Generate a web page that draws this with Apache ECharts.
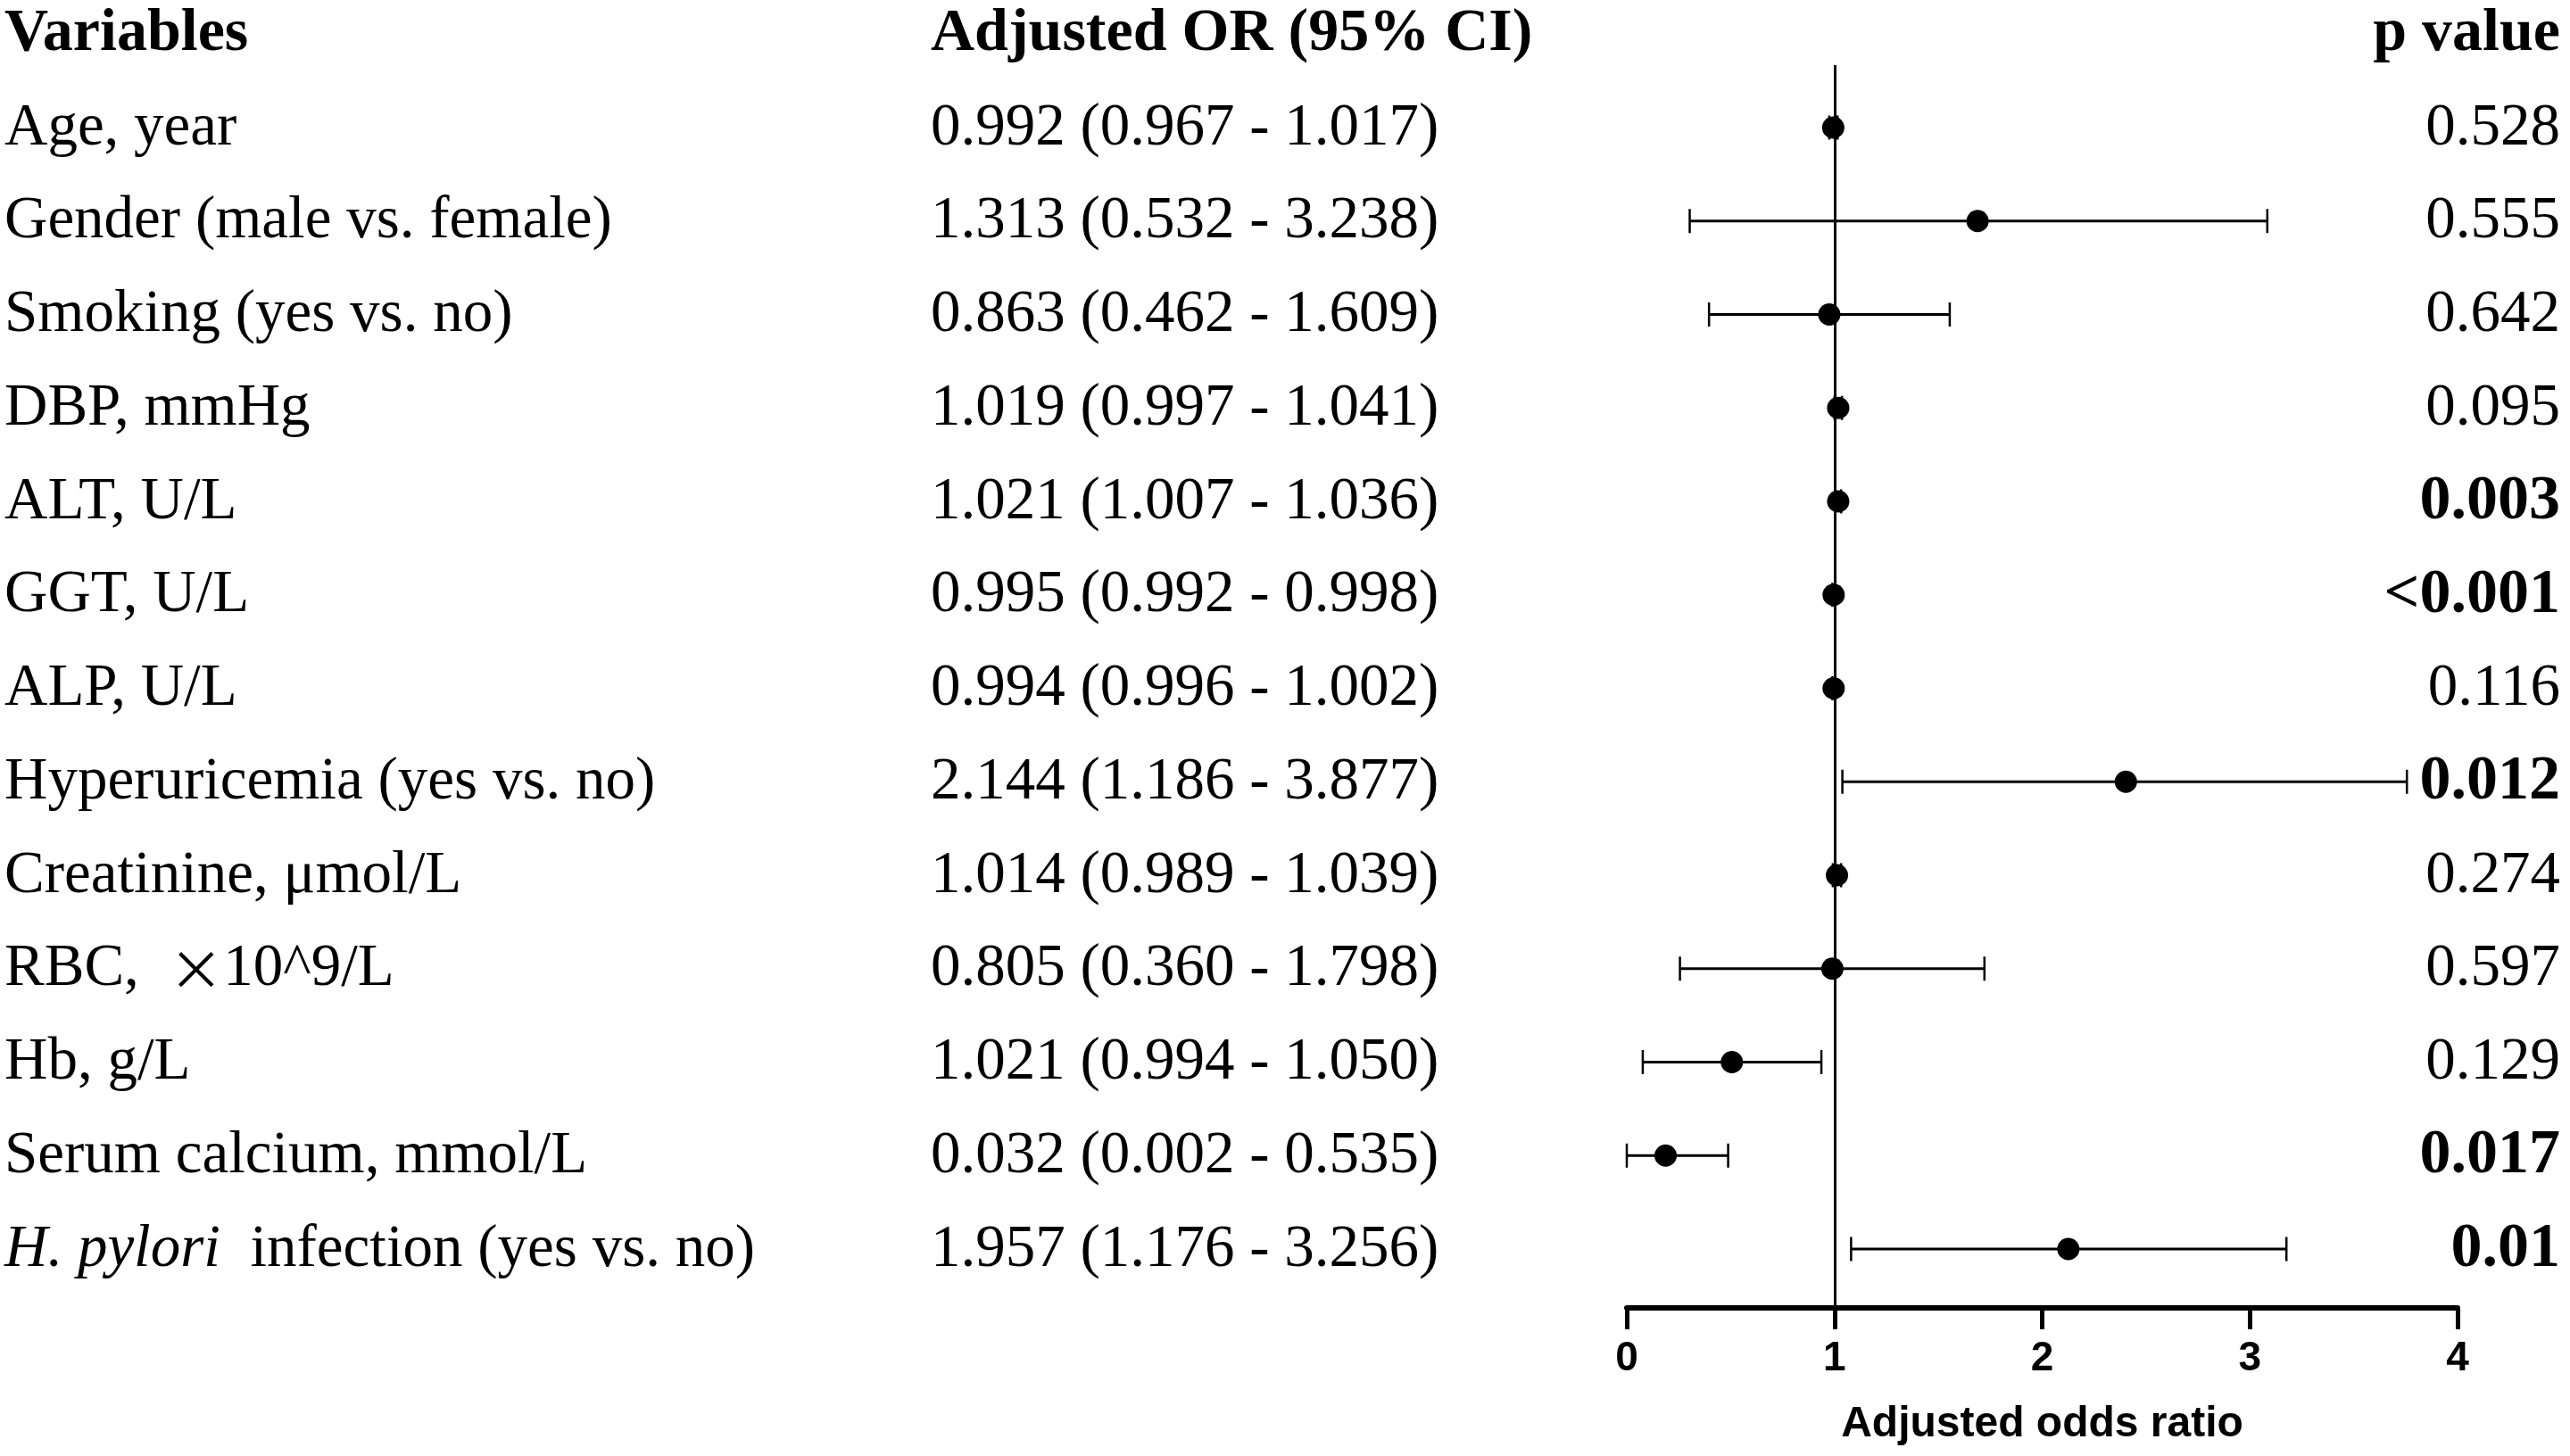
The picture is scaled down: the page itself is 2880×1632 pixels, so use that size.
<!DOCTYPE html>
<html>
<head>
<meta charset="utf-8">
<script src="https://cdn.jsdelivr.net/npm/echarts@6/dist/echarts.min.js"></script>
<style>
html,body{margin:0;padding:0;background:#ffffff;}
#chart{width:2880px;height:1632px;}
</style>
</head>
<body>
<div id="chart"></div>
<script>
// ---------- data ----------
const headers = ['Variables', 'Adjusted OR (95% CI)', 'p value'];
const variables = [
  'Age, year',
  'Gender (male vs. female)',
  'Smoking (yes vs. no)',
  'DBP, mmHg',
  'ALT, U/L',
  'GGT, U/L',
  'ALP, U/L',
  'Hyperuricemia (yes vs. no)',
  'Creatinine, \u03bcmol/L',
  'RBC, \u00d710^9/L',
  'Hb, g/L',
  'Serum calcium, mmol/L',
  'H. pylori  infection (yes vs. no)'
];
// printed adjusted OR and 95% CI (text column)
const orPrinted    = [0.992, 1.313, 0.863, 1.019, 1.021, 0.995, 0.994, 2.144, 1.014, 0.805, 1.021, 0.032, 1.957];
const ciLowPrinted = [0.967, 0.532, 0.462, 0.997, 1.007, 0.992, 0.996, 1.186, 0.989, 0.360, 0.994, 0.002, 1.176];
const ciHighPrinted= [1.017, 3.238, 1.609, 1.041, 1.036, 0.998, 1.002, 3.877, 1.039, 1.798, 1.050, 0.535, 3.256];
const pValues = ['0.528', '0.555', '0.642', '0.095', '0.003', '<0.001', '0.116', '0.012', '0.274', '0.597', '0.129', '0.017', '0.01'];
const pBold   = [false, false, false, false, true, true, false, true, false, false, false, true, true];
// values as drawn in the forest plot
const plotOR   = [0.994, 1.689, 0.975, 1.018, 1.018, 0.996, 0.996, 2.403, 1.012, 0.990, 0.506, 0.187, 2.126];
const plotLow  = [0.975, 0.303, 0.396, 1.000, 1.004, 0.990, 0.990, 1.038, 0.992, 0.256, 0.077, 0.000, 1.080];
const plotHigh = [1.015, 3.084, 1.555, 1.036, 1.032, 1.002, 1.002, 3.756, 1.032, 1.722, 0.937, 0.488, 3.176];
const xAxisMin = 0, xAxisMax = 4, xAxisStep = 1;
const xAxisTitle = 'Adjusted odds ratio';

// ---------- layout / style ----------
const SERIF = "'Liberation Serif', 'Times New Roman', serif";
const SANS = "'Liberation Sans', Arial, sans-serif";
const CJK = "'Noto Sans CJK SC', sans-serif";
const COL_VAR_X = 5;
const COL_OR_X = 1043;
const COL_P_RIGHT = 2869;
const ROW_FONT = 67;
const P_BOLD_FONT = 70;
const HEAD_FONT = 68;

const rows = variables.map((_, i) => i + 1);
const fmt = v => v.toFixed(3);

const textData = variables.map((v, i) => [0, rows[i]]);
const whiskerData = rows.map((r, i) => [r, plotLow[i], plotHigh[i]]);
const dotData = rows.map((r, i) => [plotOR[i], r]);

const chart = echarts.init(document.getElementById('chart'), null, {renderer: 'canvas'});

const richBase = {
  n: {fontFamily: SERIF, fontSize: ROW_FONT, fill: '#000'},
  i: {fontFamily: SERIF, fontSize: ROW_FONT, fontStyle: 'italic', fill: '#000'},
  x: {fontFamily: CJK, fontSize: ROW_FONT - 6, fill: '#000'}
};

function richName(name) {
  if (name.indexOf('H. pylori') === 0) {
    return '{i|H. pylori}{n|' + name.slice(9) + '}';
  }
  const k = name.indexOf('\u00d7');
  if (k >= 0) {
    return '{n|' + name.slice(0, k) + ' }{x|\u00d7}{n|' + name.slice(k + 1) + '}';
  }
  return '{n|' + name + '}';
}

function rowText(params, api) {
  const i = params.dataIndex;
  const y = api.coord([1, api.value(1)])[1] + 1;
  const children = [];
  children.push({
    type: 'text',
    style: {
      x: COL_VAR_X, y: y, text: richName(variables[i]), rich: richBase,
      fontFamily: SERIF, fontSize: ROW_FONT, fill: '#000',
      textAlign: 'left', textVerticalAlign: 'middle', verticalAlign: 'middle'
    }
  });
  children.push({
    type: 'text',
    style: {
      x: COL_OR_X, y: y,
      text: fmt(orPrinted[i]) + ' (' + fmt(ciLowPrinted[i]) + ' - ' + fmt(ciHighPrinted[i]) + ')',
      fontFamily: SERIF, fontSize: ROW_FONT, fill: '#000',
      textAlign: 'left', textVerticalAlign: 'middle', verticalAlign: 'middle'
    }
  });
  children.push({
    type: 'text',
    style: {
      x: COL_P_RIGHT, y: y, text: pValues[i],
      fontFamily: SERIF, fontSize: pBold[i] ? P_BOLD_FONT : ROW_FONT,
      fontWeight: pBold[i] ? 'bold' : 'normal', fill: '#000',
      textAlign: 'right', textVerticalAlign: 'middle', verticalAlign: 'middle'
    }
  });
  return {type: 'group', children: children};
}

function headerText(params, api) {
  const y = api.coord([1, 0])[1];
  const mk = (x, t, align) => ({
    type: 'text',
    style: {
      x: x, y: y, text: t, fontFamily: SERIF, fontSize: HEAD_FONT, fontWeight: 'bold',
      fill: '#000', textAlign: align, textVerticalAlign: 'middle', verticalAlign: 'middle'
    }
  });
  return {type: 'group', children: [
    mk(COL_VAR_X, headers[0], 'left'),
    mk(COL_OR_X, headers[1], 'left'),
    mk(COL_P_RIGHT, headers[2], 'right')
  ]};
}

function whisker(params, api) {
  const row = api.value(0);
  const p1 = api.coord([api.value(1), row]);
  const p2 = api.coord([api.value(2), row]);
  const h = 13.5;
  const st = {stroke: '#000', lineWidth: 3};
  const cap = {stroke: '#000', lineWidth: 2.5};
  return {type: 'group', children: [
    {type: 'line', shape: {x1: p1[0], y1: p1[1], x2: p2[0], y2: p2[1]}, style: st},
    {type: 'line', shape: {x1: p1[0], y1: p1[1] - h, x2: p1[0], y2: p1[1] + h}, style: cap},
    {type: 'line', shape: {x1: p2[0], y1: p2[1] - h, x2: p2[0], y2: p2[1] + h}, style: cap}
  ]};
}

const option = {
  backgroundColor: '#ffffff',
  animation: false,
  grid: {left: 1823, right: 126, top: 73, bottom: 166, containLabel: false},
  xAxis: {
    type: 'value', min: xAxisMin, max: xAxisMax, interval: xAxisStep,
    splitLine: {show: false},
    axisLine: {show: true, lineStyle: {color: '#000', width: 6}},
    axisTick: {show: true, inside: false, length: 24, lineStyle: {color: '#000', width: 5}},
    axisLabel: {fontFamily: SANS, fontSize: 46, fontWeight: 'bold', color: '#000', margin: 34},
    name: xAxisTitle, nameLocation: 'middle', nameGap: 107,
    nameTextStyle: {fontFamily: SANS, fontSize: 48, fontWeight: 'bold', color: '#000'}
  },
  yAxis: {
    type: 'value', inverse: true, min: 0.332, max: 13.63, show: false
  },
  series: [
    {
      type: 'custom', name: 'header', renderItem: headerText, data: [[0, 0]],
      encode: {x: 0, y: 1}, clip: false, silent: true, z: 5
    },
    {
      type: 'custom', name: 'text', renderItem: rowText, data: textData,
      encode: {x: 0, y: 1}, clip: false, silent: true, z: 5
    },
    {
      type: 'custom', name: 'ci', renderItem: whisker, data: whiskerData,
      encode: {x: [1, 2], y: 0}, clip: false, silent: true, z: 2,
      markLine: {
        silent: true, symbol: ['none', 'none'], label: {show: false},
        lineStyle: {color: '#000', width: 3, type: 'solid'},
        data: [{xAxis: 1}]
      }
    },
    {
      type: 'scatter', name: 'OR', data: dotData, symbol: 'circle', symbolSize: 25,
      itemStyle: {color: '#000', opacity: 1}, clip: false, silent: true, z: 4
    }
  ]
};
chart.setOption(option);
</script>
</body>
</html>
